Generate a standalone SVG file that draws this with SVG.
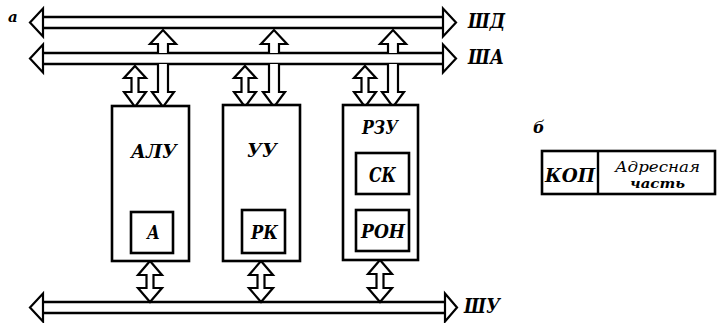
<svg xmlns="http://www.w3.org/2000/svg" width="718" height="323" viewBox="0 0 718 323">
<style>
.ln{fill:none;stroke:#000;stroke-width:2.4}
.ar{fill:#fff;stroke:#000;stroke-width:2.2;stroke-linejoin:miter}
.box{fill:#fff;stroke:#000;stroke-width:2.6}
text{font-family:'DejaVu Serif','Liberation Serif',serif;font-style:italic;font-weight:bold;fill:#000}
</style>
<rect width="718" height="323" fill="#fff"/>
<g id="connectors">
  <g id="bus-shd">
    <line class="ln" x1="43" y1="17" x2="443" y2="17"/>
    <line class="ln" x1="43" y1="28" x2="443" y2="28"/>
    <polygon class="ar" points="30,22.5 43,8.5 43,36.5"/>
    <polygon class="ar" points="456,22.5 443,8.5 443,36.5"/>
  </g>
  <g id="bus-sha">
    <line class="ln" x1="43" y1="53" x2="443" y2="53"/>
    <line class="ln" x1="43" y1="64" x2="443" y2="64"/>
    <polygon class="ar" points="30,58.5 43,44.5 43,72.5"/>
    <polygon class="ar" points="456,58.5 443,44.5 443,72.5"/>
  </g>
  <g id="bus-shu">
    <line class="ln" x1="43" y1="302" x2="445" y2="302"/>
    <line class="ln" x1="43" y1="313" x2="445" y2="313"/>
    <polygon class="ar" points="30,307.5 43,293.5 43,321.5"/>
    <polygon class="ar" points="457,307.5 445,293.5 445,321.5"/>
  </g>
  <polygon class="ar" points="135,66 146,78 138.5,78 138.5,92 146,92 135,107 124,92 131.5,92 131.5,78 124,78"/>
  <path class="ar" d="M158,53 V44 H150 L163,30 L176,44 H168 V53"/>
  <path class="ar" d="M158,64 V92 H152 L163,107 L174,92 H168 V64"/>
  <polygon class="ar" points="150,261 162,275 153.5,275 153.5,288 162,288 150,302 138,288 146.5,288 146.5,275 138,275"/>
  <polygon class="ar" points="245,66 256,78 248.5,78 248.5,92 256,92 245,107 234,92 241.5,92 241.5,78 234,78"/>
  <path class="ar" d="M269,53 V44 H261 L274,30 L287,44 H279 V53"/>
  <path class="ar" d="M269,64 V92 H263 L274,107 L285,92 H279 V64"/>
  <polygon class="ar" points="261,261 273,275 264.5,275 264.5,288 273,288 261,302 249,288 257.5,288 257.5,275 249,275"/>
  <polygon class="ar" points="365,66 376,78 368.5,78 368.5,92 376,92 365,107 354,92 361.5,92 361.5,78 354,78"/>
  <path class="ar" d="M388,53 V44 H380 L393,30 L406,44 H398 V53"/>
  <path class="ar" d="M388,64 V92 H382 L393,107 L404,92 H398 V64"/>
  <polygon class="ar" points="380,260 392,274 383.5,274 383.5,288 392,288 380,302 368,288 376.5,288 376.5,274 368,274"/>
</g>
<g id="labels">
  <text x="8" y="22" font-size="15">а</text>
  <text x="468" y="28" font-size="20" textLength="37" lengthAdjust="spacingAndGlyphs">ШД</text>
  <text x="468" y="64" font-size="20" textLength="36" lengthAdjust="spacingAndGlyphs">ША</text>
  <text x="464" y="313" font-size="20" textLength="36" lengthAdjust="spacingAndGlyphs">ШУ</text>
</g>
<g id="node-alu">
  <rect class="box" x="112" y="106" width="77" height="155"/>
  <text x="131" y="158" font-size="19" textLength="46" lengthAdjust="spacingAndGlyphs">АЛУ</text>
  <g id="node-a">
    <rect class="box" x="131" y="212" width="42" height="41"/>
    <text x="147" y="239" font-size="18" textLength="13" lengthAdjust="spacingAndGlyphs">А</text>
  </g>
</g>
<g id="node-uu">
  <rect class="box" x="223" y="105" width="77" height="156"/>
  <text x="247" y="157" font-size="19" textLength="30" lengthAdjust="spacingAndGlyphs">УУ</text>
  <g id="node-rk">
    <rect class="box" x="242" y="210" width="43" height="43"/>
    <text x="251" y="239" font-size="19" textLength="27" lengthAdjust="spacingAndGlyphs">РК</text>
  </g>
</g>
<g id="node-rzu">
  <rect class="box" x="343" y="105" width="75" height="155"/>
  <text x="362" y="134" font-size="19" textLength="36" lengthAdjust="spacingAndGlyphs">РЗУ</text>
  <g id="node-sk">
    <rect class="box" x="356" y="153" width="53" height="41"/>
    <text x="369" y="182" font-size="20" textLength="27" lengthAdjust="spacingAndGlyphs">СК</text>
  </g>
  <g id="node-ron">
    <rect class="box" x="356" y="210" width="53" height="41"/>
    <text x="361" y="238" font-size="19" textLength="44" lengthAdjust="spacingAndGlyphs">РОН</text>
  </g>
</g>
<g id="node-format">
  <text x="533" y="133" font-size="16">б</text>
  <rect class="box" x="542" y="151" width="173" height="43"/>
  <line class="ln" x1="598" y1="151" x2="598" y2="194"/>
  <text x="545" y="182" font-size="19" textLength="50" lengthAdjust="spacingAndGlyphs">КОП</text>
  <text x="615" y="172" font-size="14" style="font-weight:normal" textLength="85" lengthAdjust="spacingAndGlyphs">Адресная</text>
  <text x="630" y="188" font-size="13" textLength="55" lengthAdjust="spacingAndGlyphs">часть</text>
</g>
</svg>
